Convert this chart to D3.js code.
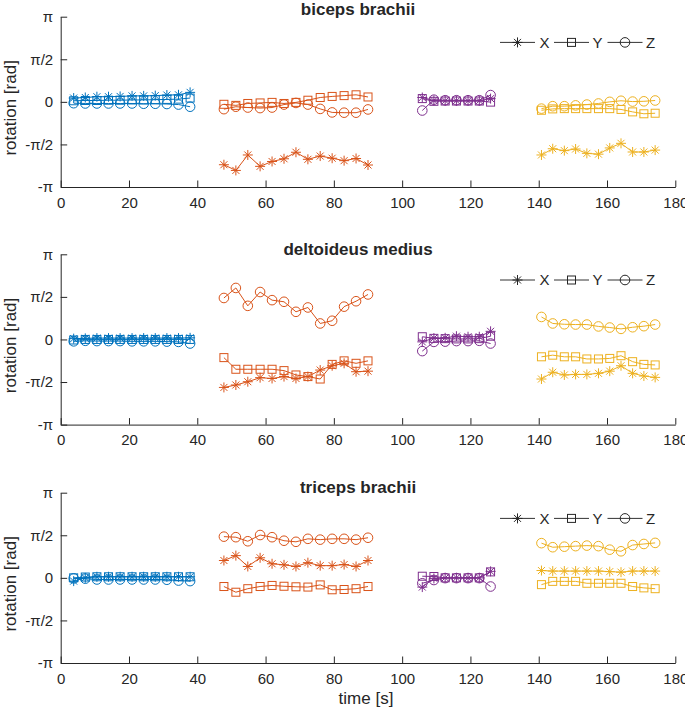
<!DOCTYPE html>
<html lang="en">
<head>
<meta charset="utf-8">
<title>Rotation per muscle</title>
<script src="https://cdn.jsdelivr.net/npm/d3@7/dist/d3.min.js"></script>
<style>
  body { margin: 0; background: #fff; }
  svg text { font-family: "Liberation Sans", Arial, sans-serif; fill: #262626; }
</style>
</head>
<body>
<div id="chart"></div>
<script>
// ---- data (rad) ----
const muscles = ["biceps brachii", "deltoideus medius", "triceps brachii"];
const components = ["X", "Y", "Z"];
const segColors = ["#0072BD", "#D95319", "#7E2F8E", "#EDB120"];

const tBlue   = [3.8, 7.2, 10.6, 14.0, 17.4, 20.9, 24.3, 27.7, 31.1, 34.5, 37.9];
const tOrange = [47.8, 51.3, 54.8, 58.4, 61.9, 65.4, 68.9, 72.4, 76.0, 79.5, 83.0, 86.5, 90.0];
const tPurple = [105.9, 109.3, 112.6, 115.9, 119.3, 122.6, 125.9];
const tYellow = [140.8, 144.1, 147.5, 150.8, 154.1, 157.5, 160.8, 164.1, 167.5, 170.8, 174.1];
const segTimes = [tBlue, tOrange, tPurple, tYellow];

// each array: [blue, orange, purple, yellow] segments
const bicepsX = [
  [0.14, 0.16, 0.19, 0.19, 0.2, 0.22, 0.22, 0.23, 0.25, 0.26, 0.35],
  [-2.32, -2.53, -1.96, -2.38, -2.2, -2.1, -1.86, -2.12, -2.0, -2.08, -2.17, -2.09, -2.33],
  [0.16, 0.05, 0.04, 0.04, 0.04, 0.04, 0.12],
  [-1.96, -1.73, -1.8, -1.74, -1.9, -1.93, -1.7, -1.53, -1.85, -1.85, -1.78]
];
const bicepsY = [
  [0.04, 0.05, 0.05, 0.06, 0.06, 0.07, 0.07, 0.08, 0.09, 0.1, 0.14],
  [-0.09, -0.13, -0.06, -0.04, -0.02, -0.06, -0.02, 0.06, 0.16, 0.2, 0.23, 0.26, 0.18],
  [0.12, 0.02, 0.03, 0.03, 0.03, 0.03, -0.01],
  [-0.31, -0.26, -0.25, -0.25, -0.25, -0.25, -0.25, -0.28, -0.37, -0.44, -0.42]
];
const bicepsZ = [
  [-0.05, -0.06, -0.06, -0.06, -0.06, -0.06, -0.07, -0.07, -0.08, -0.1, -0.18],
  [-0.27, -0.18, -0.21, -0.23, -0.21, -0.1, -0.04, -0.1, -0.26, -0.39, -0.4, -0.4, -0.28],
  [-0.32, 0.08, 0.06, 0.06, 0.06, 0.06, 0.25],
  [-0.25, -0.16, -0.16, -0.13, -0.1, -0.06, 0.0, 0.04, 0.01, 0.02, 0.05]
];
const deltoidX = [
  [0.03, 0.04, 0.05, 0.05, 0.05, 0.05, 0.05, 0.05, 0.05, 0.05, 0.06],
  [-1.77, -1.68, -1.56, -1.41, -1.44, -1.37, -1.44, -1.37, -1.13, -0.97, -0.88, -1.19, -1.17],
  [-0.09, 0.05, 0.06, 0.12, 0.1, 0.1, 0.3],
  [-1.46, -1.21, -1.31, -1.29, -1.29, -1.25, -1.17, -0.97, -1.25, -1.35, -1.4]
];
const deltoidY = [
  [-0.02, 0, 0, 0, 0, 0, 0, 0, 0, 0, 0],
  [-0.67, -1.1, -1.1, -1.1, -1.1, -1.15, -1.31, -1.37, -1.46, -0.92, -0.79, -0.88, -0.79],
  [0.1, 0.04, 0.03, 0.02, 0.02, 0.03, 0.12],
  [-0.64, -0.58, -0.64, -0.64, -0.72, -0.72, -0.7, -0.6, -0.82, -0.92, -0.94]
];
const deltoidZ = [
  [-0.07, -0.05, -0.06, -0.06, -0.06, -0.07, -0.07, -0.07, -0.08, -0.09, -0.15],
  [1.53, 1.9, 1.24, 1.75, 1.45, 1.39, 1.02, 1.18, 0.59, 0.69, 1.21, 1.41, 1.66],
  [-0.43, -0.09, -0.08, -0.06, -0.06, -0.05, -0.15],
  [0.83, 0.59, 0.56, 0.55, 0.55, 0.48, 0.44, 0.39, 0.45, 0.49, 0.55]
];
const tricepsX = [
  [-0.12, 0.0, 0.04, 0.04, 0.04, 0.04, 0.04, 0.04, 0.04, 0.04, 0.04],
  [0.64, 0.82, 0.42, 0.74, 0.52, 0.48, 0.42, 0.56, 0.45, 0.45, 0.49, 0.42, 0.64],
  [-0.34, -0.02, 0, 0, 0, 0, 0.24],
  [0.27, 0.25, 0.25, 0.25, 0.25, 0.25, 0.23, 0.21, 0.25, 0.25, 0.25]
];
const tricepsY = [
  [0.0, 0.03, 0.04, 0.04, 0.04, 0.04, 0.04, 0.04, 0.04, 0.04, 0.04],
  [-0.32, -0.53, -0.4, -0.32, -0.28, -0.31, -0.33, -0.34, -0.26, -0.44, -0.43, -0.4, -0.32],
  [0.06, 0.05, 0, 0, 0, 0, 0.22],
  [-0.25, -0.13, -0.13, -0.13, -0.2, -0.2, -0.2, -0.2, -0.32, -0.37, -0.4]
];
const tricepsZ = [
  [-0.02, -0.03, -0.06, -0.06, -0.06, -0.06, -0.06, -0.06, -0.07, -0.1, -0.12],
  [1.52, 1.5, 1.35, 1.58, 1.5, 1.37, 1.33, 1.44, 1.41, 1.44, 1.44, 1.41, 1.48],
  [-0.2, -0.08, -0.01, -0.01, -0.01, -0.01, -0.32],
  [1.28, 1.13, 1.15, 1.17, 1.19, 1.17, 1.04, 0.98, 1.21, 1.25, 1.29]
];
const panelData = [
  [bicepsX, bicepsY, bicepsZ],
  [deltoidX, deltoidY, deltoidZ],
  [tricepsX, tricepsY, tricepsZ]
];

const xTicks = [0, 20, 40, 60, 80, 100, 120, 140, 160, 180];
const yTicks = [-Math.PI, -Math.PI / 2, 0, Math.PI / 2, Math.PI];
const yTickLabels = ["-π", "-π/2", "0", "π/2", "π"];

// ---- layout ----
const W = 685, H = 711;
const panelTops = [16.7, 254.3, 492.7], panelH = 170.3;
const titleBaseline = [14.7, 254.8, 493.2];
const axisColor = "#262626";

const svg = d3.select("#chart").append("svg")
  .attr("width", W).attr("height", H);

const x = d3.scaleLinear().domain([0, 180]).range([60.7, 675.3]);

function drawMarker(g, comp, color) {
  if (comp === "X") {
    const r = 5;
    g.append("path")
      .attr("d", `M${-r},0H${r}M0,${-r}V${r}M${-r*0.7},${-r*0.7}L${r*0.7},${r*0.7}M${-r*0.7},${r*0.7}L${r*0.7},${-r*0.7}`)
      .attr("stroke", color).attr("stroke-width", 1).attr("fill", "none");
  } else if (comp === "Y") {
    g.append("rect").attr("x", -4).attr("y", -4).attr("width", 8).attr("height", 8)
      .attr("stroke", color).attr("stroke-width", 1).attr("fill", "none");
  } else {
    g.append("circle").attr("r", 4.8)
      .attr("stroke", color).attr("stroke-width", 1).attr("fill", "none");
  }
}

panelTops.forEach((top, p) => {
  const y = d3.scaleLinear().domain([-Math.PI, Math.PI]).range([top + panelH, top]);
  const g = svg.append("g");

  // axes (ticks inward, no box)
  const xAxis = g.append("g")
    .attr("transform", `translate(0,${top + panelH})`)
    .call(d3.axisBottom(x).tickValues(xTicks).tickSizeInner(-6.5).tickSizeOuter(0).tickPadding(10));
  const yAxis = g.append("g")
    .attr("transform", `translate(${x(0)},0)`)
    .call(d3.axisLeft(y).tickValues(yTicks).tickFormat((d, i) => yTickLabels[i])
      .tickSizeInner(-6.5).tickSizeOuter(0).tickPadding(7.5));
  [xAxis, yAxis].forEach(a => {
    a.select(".domain").attr("stroke", axisColor).attr("stroke-width", 1);
    a.selectAll(".tick line").attr("stroke", axisColor);
    a.selectAll("text").attr("font-size", 15).attr("fill", axisColor)
      .attr("font-family", '"Liberation Sans", Arial, sans-serif');
  });

  // title
  g.append("text")
    .attr("x", 358).attr("y", titleBaseline[p])
    .attr("text-anchor", "middle").attr("font-weight", "bold").attr("font-size", 17)
    .attr("fill", "#000")
    .text(muscles[p]);

  // y label
  g.append("text")
    .attr("transform", `translate(16,${top + panelH / 2 + 6}) rotate(-90)`)
    .attr("text-anchor", "middle").attr("font-size", 17)
    .text("rotation [rad]");

  // series
  const line = d3.line().x(d => x(d[0])).y(d => y(d[1]));
  segTimes.forEach((ts, s) => {
    const color = segColors[s];
    components.forEach((comp, c) => {
      const pts = ts.map((t, i) => [t, panelData[p][c][s][i]]);
      g.append("path").datum(pts)
        .attr("d", line).attr("fill", "none")
        .attr("stroke", color).attr("stroke-width", 1);
      pts.forEach(d => {
        const m = g.append("g").attr("transform", `translate(${x(d[0])},${y(d[1])})`);
        drawMarker(m, comp, color);
      });
    });
  });

  // legend
  const ly = top + 25.7;
  const legendItems = [
    { comp: "X", x0: 500, x1: 535, tx: 539.5 },
    { comp: "Y", x0: 554, x1: 589, tx: 592.5 },
    { comp: "Z", x0: 607.5, x1: 642.5, tx: 646 }
  ];
  legendItems.forEach(it => {
    g.append("line").attr("x1", it.x0).attr("x2", it.x1).attr("y1", ly).attr("y2", ly)
      .attr("stroke", "#333").attr("stroke-width", 1);
    const m = g.append("g").attr("transform", `translate(${(it.x0 + it.x1) / 2},${ly})`);
    drawMarker(m, it.comp, "#262626");
    g.append("text").attr("x", it.tx).attr("y", ly).attr("dy", "0.36em")
      .attr("font-size", 15).text(it.comp);
  });
});

// x label
svg.append("text")
  .attr("x", 366).attr("y", 704)
  .attr("text-anchor", "middle").attr("font-size", 17)
  .text("time [s]");
</script>
</body>
</html>
